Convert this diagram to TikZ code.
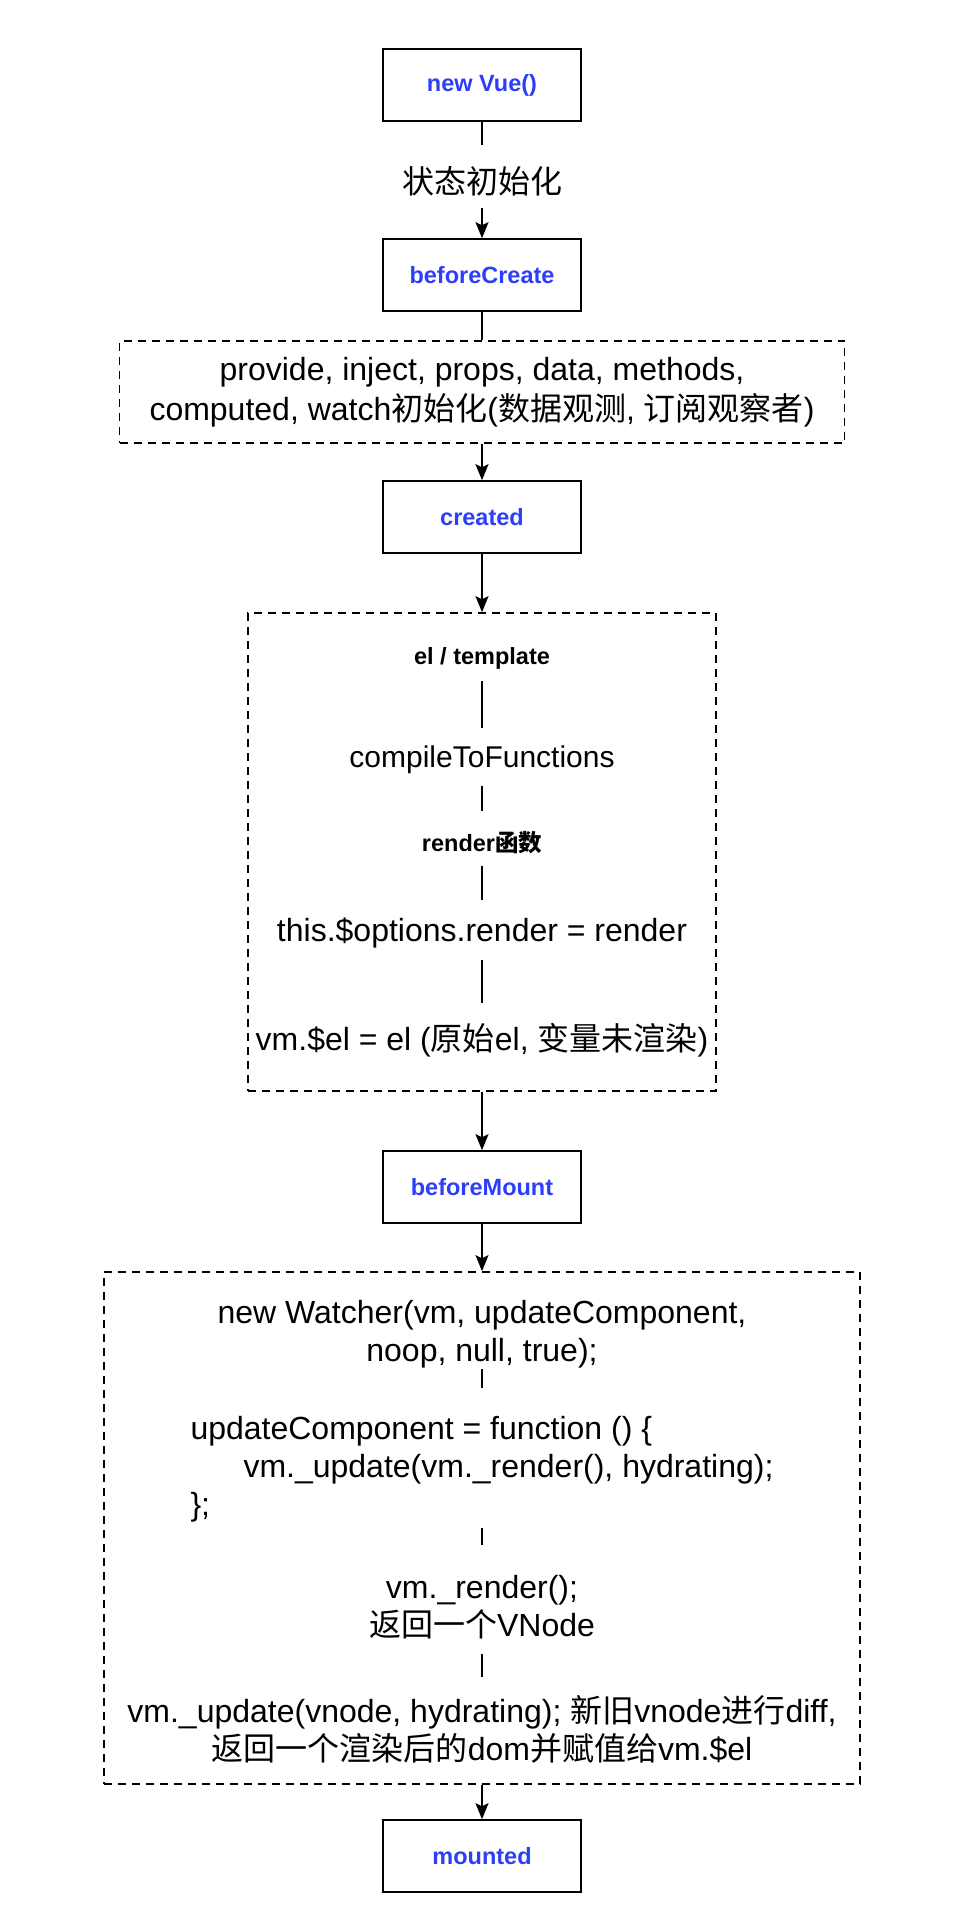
\documentclass[tikz,border=0pt]{standalone}
\usepackage{fontspec}
\setmainfont{Liberation Sans}
\newfontfamily\cjk{Noto Sans CJK SC}
\usepackage{tikz}
\usetikzlibrary{arrows.meta}
\definecolor{hookblue}{RGB}{45,62,250}
\tikzset{hook/.style={draw, line width=1.6pt, minimum width=198pt, minimum height=72pt,
  text=hookblue, font=\fontsize{23.5}{28}\selectfont\bfseries}}
\tikzset{grp/.style={draw, line width=1.6pt, dash pattern=on 8pt off 6pt}}
\tikzset{txt/.style={inner xsep=0pt, inner ysep=12pt, align=center, font=\fontsize{32}{38}\selectfont}}
\tikzset{tag/.style={inner xsep=0pt, inner ysep=12pt, font=\fontsize{23.5}{28}\selectfont\bfseries}}
\tikzset{link/.style={line width=1.6pt}}
\tikzset{flow/.style={line width=1.6pt, -{Stealth[length=16pt,width=13pt,inset=3pt]}}}

\begin{document}
\begin{tikzpicture}[x=1pt, y=-1pt]
\useasboundingbox (0,0) rectangle (962,1928);

\node[hook] (vue) at (482,85) {new Vue()};
\node[txt] (stateinit) at (482,181) {{\cjk 状态初始化}};
\node[hook] (bcreate) at (482,275) {beforeCreate};
\node[grp, txt, minimum width=725pt, minimum height=102pt, font=\fontsize{32}{40}\selectfont] (initbox) at (482,392)
  {provide, inject, props, data, methods,\\computed, watch{\cjk 初始化}({\cjk 数据观测}, {\cjk 订阅观察者})};
\node[hook] (created) at (482,517) {created};

\node[grp, minimum width=468pt, minimum height=478pt] (tplbox) at (482,852) {};
\node[tag] (eltpl) at (482,658) {el / template};
\node[txt, font=\fontsize{30}{36}\selectfont] (compile) at (482,760) {compileToFunctions};
\node[tag] (renderfn) at (482,843) {render{\cjk 函数}};
\node[txt] (opts) at (482,933) {this.\$options.render = render};
\node[txt] (vmel) at (482,1040) {vm.\$el = el ({\cjk 原始}el, {\cjk 变量未渲染})};

\node[hook] (bmount) at (482,1187) {beforeMount};

\node[grp, minimum width=756pt, minimum height=512pt] (mountbox) at (482,1528) {};
\node[txt, inner ysep=1pt] (watcher) at (482,1334) {new Watcher(vm, updateComponent,\\noop, null, true);};
\node[txt, align=left, inner ysep=6pt] (updfn) at (482,1469)
  {updateComponent = function () \{\\\hspace*{53pt}vm.\_update(vm.\_render(), hydrating);\\\};};
\node[txt] (vrender) at (482,1607) {vm.\_render();\\{\cjk 返回一个}VNode};
\node[txt, inner ysep=18pt] (vupdate) at (482,1729)
  {vm.\_update(vnode, hydrating); {\cjk 新旧}vnode{\cjk 进行}diff,\\{\cjk 返回一个渲染后的}dom{\cjk 并赋值给}vm.\$el};

\node[hook] (mounted) at (482,1856) {mounted};

\draw[link, shorten >=9pt] (vue) -- (stateinit);
\draw[flow] (stateinit) -- (bcreate);
\draw[link] (bcreate) -- (initbox);
\draw[flow] (initbox) -- (created);
\draw[flow] (created) -- (tplbox);
\draw[link, shorten >=6pt] (eltpl) -- (compile);
\draw[link, shorten >=9pt] (compile) -- (renderfn);
\draw[link, shorten >=6pt] (renderfn) -- (opts);
\draw[link, shorten >=8pt] (opts) -- (vmel);
\draw[flow] (tplbox) -- (bmount);
\draw[flow] (bmount) -- (mountbox);
\draw[link, shorten >=22pt] (watcher) -- (updfn);
\draw[link, shorten >=18pt] (updfn) -- (vrender);
\draw[link, shorten <=3pt] (vrender) -- (vupdate);
\draw[flow] (mountbox) -- (mounted);
\end{tikzpicture}
\end{document}
